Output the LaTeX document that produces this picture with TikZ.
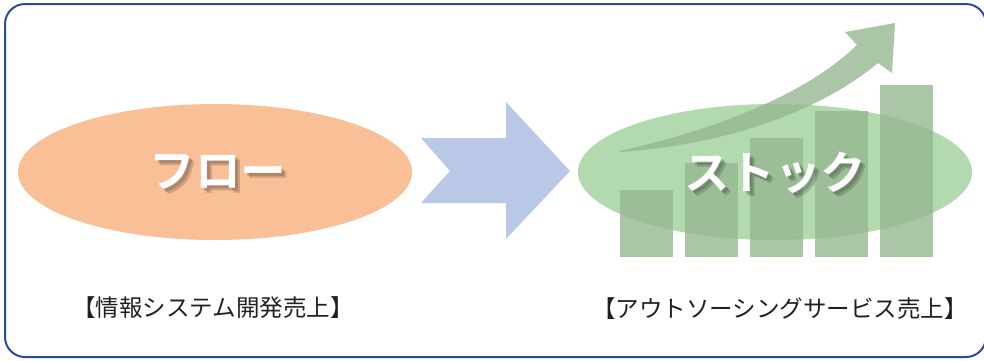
\documentclass[tikz,border=0pt]{standalone}
\usepackage{fontspec}
\newfontfamily\cjk{Noto Sans CJK JP}
\newfontfamily\cjkbold{Noto Sans CJK JP Bold}
\definecolor{frameblue}{RGB}{44,74,156}
\definecolor{floworange}{RGB}{249,191,151}
\definecolor{chevblue}{RGB}{185,200,230}
\definecolor{stockgreen}{RGB}{179,218,174}
\definecolor{bargreen}{RGB}{150,184,144}
\definecolor{labelgray}{RGB}{35,31,32}
\tikzset{
  framebox/.style={draw=frameblue,line width=2pt,rounded corners=20pt},
  barbox/.style={fill=bargreen,fill opacity=0.8,draw=none},
  bigtext/.style={font=\cjkbold\fontsize{45.5}{45.5}\selectfont,text=white,inner sep=0pt},
  shadowtext/.style={font=\cjkbold\fontsize{45.5}{45.5}\selectfont,text=black,text opacity=0.16,inner sep=0pt},
  labeltext/.style={font=\cjk\fontsize{23.5}{23.5}\selectfont,text=labelgray,inner sep=0pt}
}
\begin{document}
\begin{tikzpicture}[x=1pt,y=-1pt]
\useasboundingbox (0,0) rectangle (984,360);
\clip (0,0) rectangle (984,360);
\draw[framebox] (5,4) rectangle (986,357);
% flow ellipse
\fill[floworange] (215,172) ellipse [x radius=197, y radius=68];
% chevron arrow
\fill[chevblue] (421,138) -- (506,138) -- (506,102) -- (570,171) -- (506,239) -- (506,203) -- (421,203) -- (450,171) -- cycle;
% stock ellipse
\fill[stockgreen] (775,172) ellipse [x radius=197, y radius=68];
% bars
\fill[barbox] (620,190) rectangle (673,257);
\fill[barbox] (685,163) rectangle (738,257);
\fill[barbox] (750,138) rectangle (803,257);
\fill[barbox] (815,111) rectangle (868,257);
\fill[barbox] (880,85) rectangle (933,257);
% curved arrow
\fill[bargreen,fill opacity=0.8] (620,151) .. controls (700,133) and (800,100) .. (857,45)
  -- (845,32) -- (895,23) -- (892,73) -- (878,63)
  .. controls (815,115) and (720,145) .. (620,152) -- cycle;
% texts with shadow
\foreach \dx/\dy in {3/3,5/5}{
  \node[shadowtext] at (218+\dx,172+\dy) {フロー};
  \node[shadowtext] at (775+\dx,173+\dy) {ストック};
}
\node[bigtext] (flow) at (218,172) {フロー};
\node[bigtext] (stock) at (775,173) {ストック};
% labels
\node[labeltext] (lab1) at (213,308) {【情報システム開発売上】};
\node[labeltext] (lab2) at (780,309) {【アウトソーシングサービス売上】};
\end{tikzpicture}
\end{document}
